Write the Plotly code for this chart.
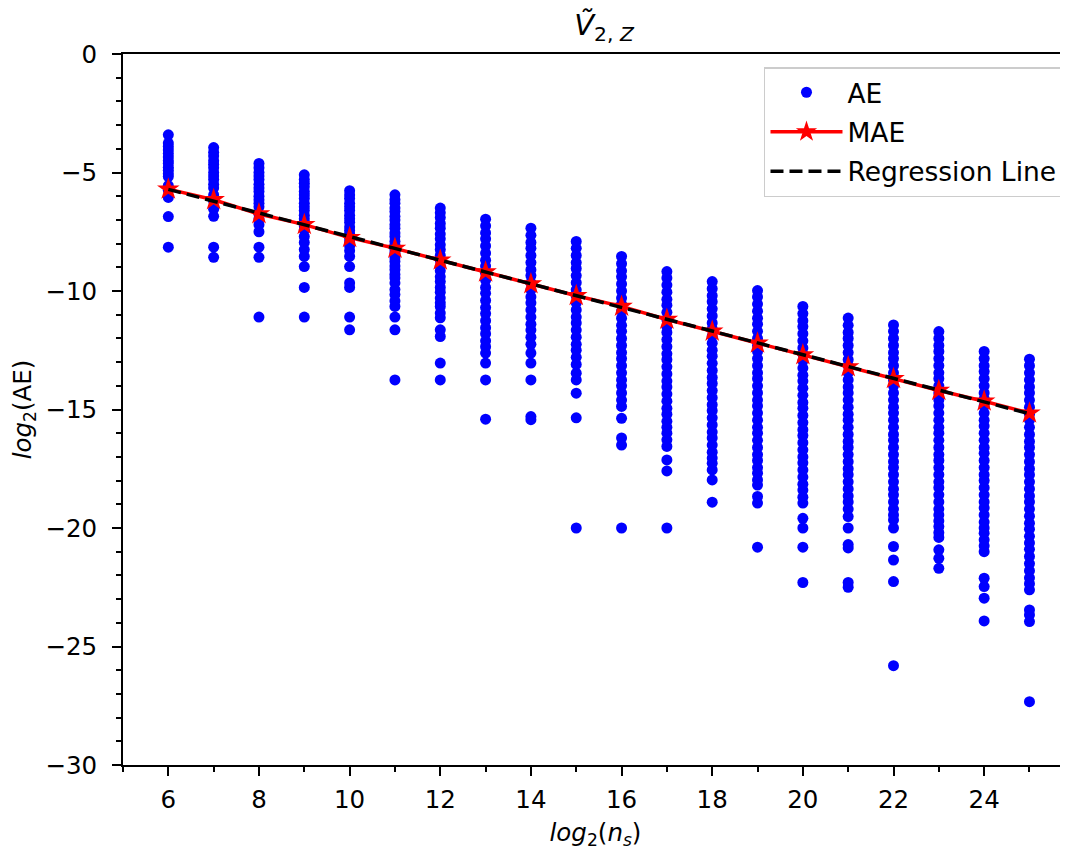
import numpy as np
import plotly.graph_objects as go

# ---------------- data ----------------
log2_ns = [6, 7, 8, 9, 10, 11, 12, 13, 14, 15, 16, 17, 18, 19, 20, 21, 22, 23, 24, 25]

ae_06 = [-3.41, -3.76, -3.9, -4.05, -4.2, -4.35, -4.5, -4.62, -4.78, -4.9, -5.05, -5.17,
         -5.55, -5.75, -6.05, -6.86, -8.15]
ae_07 = [-3.95, -4.15, -4.3, -4.5, -4.65, -4.8, -5.0, -5.15, -5.3, -5.5, -5.65, -5.95,
         -6.2, -6.55, -6.85, -8.15, -8.58]
ae_08 = [-4.62, -4.8, -5.0, -5.15, -5.3, -5.5, -5.65, -5.8, -6.0, -6.15, -6.3, -6.45,
         -6.75, -6.95, -7.2, -7.5, -8.15, -8.58, -11.1]
ae_09 = [-5.1, -5.3, -5.45, -5.6, -5.8, -5.95, -6.1, -6.3, -6.45, -6.6, -6.8, -6.95,
         -7.1, -7.25, -7.42, -7.7, -7.95, -8.25, -8.54, -8.97, -9.85, -11.1]
ae_10 = [-5.77, -5.95, -6.1, -6.3, -6.45, -6.6, -6.8, -6.95, -7.1, -7.3, -7.45, -7.6,
         -7.8, -7.95, -8.1, -8.3, -8.54, -8.97, -9.66, -9.85, -11.1, -11.64]
ae_11 = [-5.94, -6.15, -6.3, -6.5, -6.65, -6.85, -7.0, -7.2, -7.35, -7.55, -7.7, -7.9,
         -8.05, -8.25, -8.4, -8.6, -8.75, -8.95, -9.1, -9.3, -9.45, -9.66, -9.94, -10.15,
         -10.42, -10.65, -11.1, -11.64, -13.75]
ae_12 = [-6.5, -6.7, -6.9, -7.15, -7.35, -7.6, -7.8, -8.05, -8.25, -8.5, -8.7, -8.95,
         -9.15, -9.4, -9.6, -9.85, -10.05, -10.3, -10.5, -10.65, -10.93, -11.13, -11.64,
         -11.92, -13.04, -13.75]
ae_13 = [-6.97, -7.25, -7.55, -7.8, -8.1, -8.4, -8.7, -8.95, -9.25, -9.55, -9.85, -10.1,
         -10.4, -10.7, -10.95, -11.25, -11.55, -11.8, -12.1, -12.35, -12.62, -13.04,
         -13.75, -15.41]
ae_14 = [-7.35, -7.65, -7.95, -8.2, -8.5, -8.8, -9.1, -9.35, -9.65, -9.95, -10.25, -10.5,
         -10.8, -11.1, -11.4, -11.65, -11.95, -12.25, -12.62, -13.04, -13.75, -15.3, -15.43]
ae_15 = [-7.91, -8.2, -8.5, -8.8, -9.05, -9.35, -9.65, -9.95, -10.2, -10.5, -10.8, -11.1,
         -11.35, -11.65, -11.95, -12.25, -12.5, -12.8, -13.1, -13.47, -13.75, -14.31,
         -15.35, -20.0]
ae_16 = [-8.54, -8.85, -9.15, -9.4, -9.7, -10.0, -10.3, -10.55, -10.85, -11.15, -11.45,
         -11.7, -12.0, -12.3, -12.6, -12.85, -13.15, -13.45, -13.75, -14.0, -14.3, -14.6,
         -14.87, -15.37, -16.2, -16.5, -20.0]
ae_17 = [-9.18, -9.45, -9.75, -10.05, -10.35, -10.6, -10.9, -11.2, -11.5, -11.75, -12.05,
         -12.35, -12.65, -12.9, -13.2, -13.5, -13.8, -14.05, -14.35, -14.65, -14.95, -15.2,
         -15.5, -15.75, -16.0, -16.28, -16.56, -17.13, -17.59, -20.0]
ae_18 = [-9.6, -9.9, -10.2, -10.45, -10.75, -11.05, -11.35, -11.6, -11.9, -12.2, -12.5,
         -12.75, -13.05, -13.35, -13.65, -13.9, -14.2, -14.5, -14.8, -15.05, -15.35,
         -15.65, -15.95, -16.2, -16.5, -16.8, -17.05, -17.27, -17.55, -17.97, -18.91]
ae_19 = [-9.98, -10.25, -10.55, -10.85, -11.15, -11.4, -11.7, -12.0, -12.3, -12.55,
         -12.85, -13.15, -13.45, -13.7, -14.0, -14.3, -14.6, -14.85, -15.15, -15.45,
         -15.75, -16.0, -16.3, -16.6, -16.9, -17.15, -17.45, -17.69, -17.97, -18.19,
         -18.67, -18.95, -20.81]
ae_20 = [-10.65, -10.95, -11.25, -11.5, -11.8, -12.1, -12.4, -12.65, -12.95, -13.25,
         -13.55, -13.8, -14.1, -14.4, -14.7, -14.95, -15.25, -15.55, -15.85, -16.1, -16.4,
         -16.7, -17.0, -17.25, -17.55, -17.85, -18.15, -18.4, -18.7, -18.95, -19.59,
         -20.0, -20.81, -22.3]
ae_21 = [-11.14, -11.45, -11.75, -12.0, -12.3, -12.6, -12.9, -13.15, -13.45, -13.75,
         -14.05, -14.3, -14.6, -14.9, -15.2, -15.45, -15.75, -16.05, -16.35, -16.6, -16.9,
         -17.2, -17.5, -17.75, -18.05, -18.35, -18.65, -18.9, -19.2, -19.52, -20.0,
         -20.7, -20.84, -22.3, -22.5]
ae_22 = [-11.43, -11.7, -12.0, -12.3, -12.6, -12.85, -13.15, -13.45, -13.75, -14.0,
         -14.3, -14.6, -14.9, -15.15, -15.45, -15.75, -16.05, -16.3, -16.6, -16.9, -17.2,
         -17.45, -17.75, -18.05, -18.35, -18.6, -18.9, -19.2, -19.45, -19.66, -20.0,
         -20.78, -21.35, -22.26, -25.81]
ae_23 = [-11.71, -12.0, -12.3, -12.55, -12.85, -13.15, -13.45, -13.7, -14.0, -14.3,
         -14.6, -14.85, -15.15, -15.45, -15.75, -16.0, -16.3, -16.6, -16.9, -17.15,
         -17.45, -17.75, -18.05, -18.3, -18.6, -18.9, -19.2, -19.45, -19.7, -19.94,
         -20.2, -20.4, -20.92, -21.28, -21.7]
ae_24 = [-12.55, -12.85, -13.15, -13.4, -13.7, -14.0, -14.3, -14.55, -14.85, -15.15,
         -15.45, -15.7, -16.0, -16.3, -16.6, -16.85, -17.15, -17.45, -17.75, -18.0, -18.3,
         -18.6, -18.9, -19.15, -19.45, -19.75, -20.0, -20.22, -20.5, -20.75, -21.0,
         -22.12, -22.47, -22.96, -23.92]
ae_25 = [-12.88, -13.15, -13.45, -13.75, -14.05, -14.3, -14.6, -14.9, -15.2, -15.45,
         -15.75, -16.05, -16.35, -16.6, -16.9, -17.2, -17.5, -17.75, -18.05, -18.35,
         -18.65, -18.9, -19.2, -19.5, -19.8, -20.05, -20.35, -20.63, -20.9, -21.2, -21.5,
         -21.8, -22.1, -22.35, -22.61, -23.46, -23.67, -23.95, -27.33]

mae = [-5.7, -6.15, -6.75, -7.2, -7.75, -8.2, -8.7, -9.2, -9.7, -10.2,
       -10.65, -11.2, -11.7, -12.2, -12.7, -13.2, -13.7, -14.2, -14.65, -15.15]

x_ticks = [6, 8, 10, 12, 14, 16, 18, 20, 22, 24]
y_ticks = [0, -5, -10, -15, -20, -25, -30]

# ---------------- build ----------------
ae_columns = [ae_06, ae_07, ae_08, ae_09, ae_10, ae_11, ae_12, ae_13, ae_14, ae_15,
              ae_16, ae_17, ae_18, ae_19, ae_20, ae_21, ae_22, ae_23, ae_24, ae_25]
ae_x, ae_y = [], []
for xv, col in zip(log2_ns, ae_columns):
    ae_x += [xv] * len(col)
    ae_y += col

slope, intercept = np.polyfit(log2_ns, mae, 1)
reg_y = [slope * xv + intercept for xv in log2_ns]

FONT = "DejaVu Sans"
FS = 24.5

fig = go.Figure()
fig.add_trace(go.Scatter(
    x=ae_x, y=ae_y, mode="markers", name="AE", legendgroup="a",
    marker=dict(color="#0000ff", size=11, line=dict(width=0)),
))
fig.add_trace(go.Scatter(
    x=log2_ns, y=mae, mode="lines+markers", name="MAE", legendgroup="b",
    line=dict(color="#ff0000", width=3.5),
    marker=dict(symbol="star", size=17, color="#ff0000", line=dict(width=0)),
))
fig.add_trace(go.Scatter(
    x=log2_ns, y=reg_y, mode="lines", name="Regression Line", legendgroup="c",
    line=dict(color="black", width=3.5, dash="13px,6px"),
))

# The page body has an 8px margin: the figure is offset by 8px in the window.
fig.update_layout(
    width=1060, height=845,
    margin=dict(l=115, r=0, t=46, b=88, pad=0),
    paper_bgcolor="white", plot_bgcolor="white",
    font=dict(family=FONT, size=FS, color="black"),
    title=dict(
        text="<i>Ṽ</i><sub>2, <i>Z</i></sub>",
        x=0.509, xref="paper", xanchor="center",
        y=1 - 17 / 845, yref="container", yanchor="middle",
        font=dict(family=FONT, size=29, color="black"),
    ),
    showlegend=True,
    legend=dict(
        x=0.9947, y=0.9817, xanchor="right", yanchor="top",
        bgcolor="white", bordercolor="#cccccc", borderwidth=1.5,
        font=dict(family=FONT, size=26.5, color="black"),
        tracegroupgap=2, itemwidth=72,
    ),
)

axis_common = dict(
    showline=True, linecolor="black", linewidth=2,
    ticks="outside", ticklen=9, tickwidth=2, tickcolor="black",
    showgrid=False, zeroline=False,
    tickfont=dict(family=FONT, size=FS, color="black"),
)

fig.update_xaxes(
    range=[5.0, 25.85], tickmode="array", tickvals=x_ticks,
    ticktext=[str(v) for v in x_ticks],
    mirror=True,
    minor=dict(dtick=1, tick0=0, ticks="outside", ticklen=5, tickwidth=1.5,
               tickcolor="black", showgrid=False),
    title=dict(text="<i>log</i><sub>2</sub>(<i>n</i><sub><i>s</i></sub>)",
               standoff=10, font=dict(family=FONT, size=FS, color="black")),
    ticklabelstandoff=3,
    **axis_common,
)
fig.update_yaxes(
    range=[-30, 0], tickmode="array", tickvals=y_ticks,
    ticktext=[("\u2212" + str(-v)) if v < 0 else str(v) for v in y_ticks],
    mirror=False,
    minor=dict(dtick=1, tick0=0, ticks="outside", ticklen=5, tickwidth=1.5,
               tickcolor="black", showgrid=False),
    title=dict(text="<i>log</i><sub>2</sub>(AE)",
               standoff=10, font=dict(family=FONT, size=FS, color="black")),
    ticklabelstandoff=10,
    **axis_common,
)

fig.write_html("out.html")
